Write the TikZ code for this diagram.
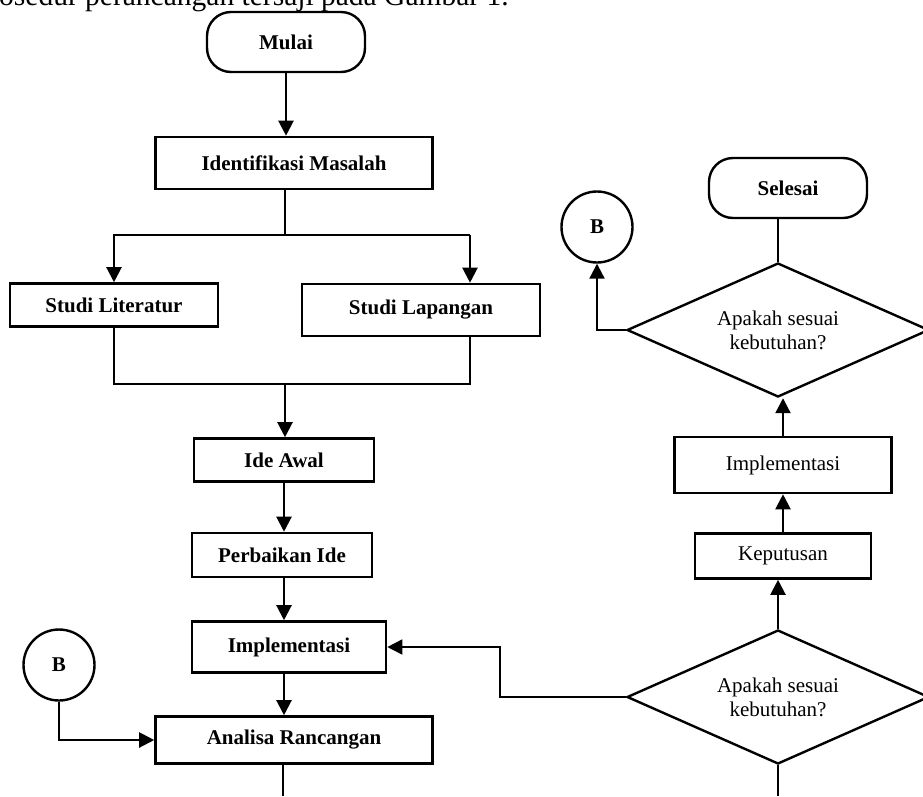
\documentclass[tikz,border=0pt]{standalone}
\usepackage{fontspec}
\setmainfont{Liberation Serif}
\usetikzlibrary{shapes.geometric,arrows.meta}
\begin{document}
\begin{tikzpicture}[x=1pt,y=-1pt,
  box/.style={draw,line width=2.6pt,inner sep=0pt,font=\fontsize{21}{24}\selectfont\bfseries},
  rbox/.style={draw,line width=2.6pt,inner sep=0pt,font=\fontsize{21}{24}\selectfont},
  term/.style={draw,line width=2.4pt,rounded corners=24pt,minimum width=158pt,minimum height=60pt,inner sep=0pt,font=\fontsize{21}{24}\selectfont\bfseries},
  conn/.style={draw,circle,line width=2.4pt,minimum size=71pt,inner sep=0pt,font=\fontsize{21}{24}\selectfont\bfseries},
  dec/.style={diamond,draw,line width=2.4pt,aspect=2.25,minimum width=302pt,minimum height=134pt,inner sep=0pt,align=center,font=\fontsize{21}{24}\selectfont},
  arr/.style={line width=2.2pt,-{Triangle[length=15pt,width=15pt]}},
  ln/.style={line width=2.2pt},
  thinln/.style={line width=1.4pt},
]
\useasboundingbox (0,0) rectangle (923,796);
\clip (0,0) rectangle (923,796);

\node[anchor=base west,inner sep=0pt,font=\fontsize{29.5}{30}\selectfont] (cap) at (-1,5.5) {osedur perancangan tersaji pada Gambar 1.};

\node[term] (mulai) at (286,42) {Mulai};
\node[box,minimum width=277pt,minimum height=52pt] (ident) at (294,163) {Identifikasi Masalah};
\node[box,minimum width=208pt,minimum height=43pt] (lit) at (114,305) {Studi Literatur};
\node[box,minimum width=238pt,minimum height=52pt] (lap) at (421,310) {Studi Lapangan};
\node[box,minimum width=180pt,minimum height=43pt] (ide) at (284,460) {Ide Awal};
\node[box,minimum width=180pt,minimum height=44pt] (perb) at (282,555) {Perbaikan Ide};
\node[box,minimum width=194pt,minimum height=51pt] (impl) at (289,647) {Implementasi};
\node[box,minimum width=277pt,minimum height=47pt] (ana) at (294,740) {Analisa Rancangan};
\node[conn] (bl) at (59,665) {B};
\node[conn] (br) at (597,227) {B};
\node[term] (sel) at (788,188) {Selesai};
\node[dec] (d1) at (778,330) {Apakah sesuai\\kebutuhan?};
\node[rbox,minimum width=217pt,minimum height=56pt] (impl2) at (783,465) {Implementasi};
\node[rbox,minimum width=176pt,minimum height=45pt] (kep) at (783,556) {Keputusan};
\node[dec] (d2) at (778,697) {Apakah sesuai\\kebutuhan?};

\coordinate (split) at (285,235);
\coordinate (lapx) at (470,235);
\coordinate (merge) at (285,384);
\coordinate (kink) at (500,697);
\coordinate (bot1) at (283,796);
\coordinate (bot2) at (778,796);

\draw[arr] (mulai.south) -- (mulai.south |- ident.north);
\draw[ln] (ident.south -| split) -- (split);
\draw[arr] (split) -| (lit.north);
\draw[ln] (split) -- (lapx);
\draw[arr] (lapx) -- (lapx |- lap.north);
\draw[ln] (lit.south) |- (merge);
\draw[ln] (lapx |- lap.south) |- (merge);
\draw[arr] (merge) -- (merge |- ide.north);
\draw[arr] (ide.south) -- (ide.south |- perb.north);
\draw[arr] (ide.south |- perb.south) -- (ide.south |- impl.north);
\draw[arr] (ide.south |- impl.south) -- (ide.south |- ana.north);
\draw[thinln] (ana.south -| bot1) -- (bot1);
\draw[arr] (bl.south) |- (ana.west);
\draw[arr,line width=1.6pt] (d2.west) -- (kink) |- (impl.east);
\draw[arr] (d2.north) -- (d2.north |- kep.south);
\draw[arr] (kep.north) -- (kep.north |- impl2.south);
\draw[arr] (impl2.north) -- (impl2.north |- d1.south);
\draw[thinln] (d1.north) -- (d1.north |- sel.south);
\draw[arr] (d1.west) -| (br.south);
\draw[thinln] (d2.south) -- (bot2);
\end{tikzpicture}
\end{document}
